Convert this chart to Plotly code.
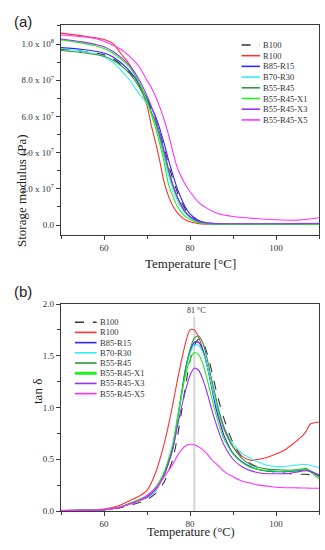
import numpy as np
import plotly.graph_objects as go

# ---------------- data ----------------
SERIES = ["B100", "R100", "B85-R15", "B70-R30", "B55-R45",
          "B55-R45-X1", "B55-R45-X3", "B55-R45-X5"]
COLORS = ["#333333", "#ff3030", "#2a2aff", "#30f0f0", "#2e9a3a",
          "#22ee22", "#9a30f0", "#ff30ff"]

# (a) storage modulus, values in units of 1e7 Pa
T_A = [50, 55, 58, 60, 62, 64, 66, 68, 70, 71, 72, 73, 74, 75, 76, 77, 78, 79, 80,
       82, 84, 86, 90, 95, 100, 105, 110]
E_B100 = [9.72, 9.6, 9.5, 9.4, 9.2, 8.85, 8.4, 7.75, 6.9, 6.4, 5.85, 5.1, 4.25, 3.35, 2.55,
          1.85, 1.28, 0.85, 0.55, 0.22, 0.11, 0.07, 0.05, 0.04, 0.04, 0.04, 0.04]
E_R100 = [10.6, 10.45, 10.35, 10.25, 10.05, 9.45, 8.85, 7.85, 6.6, 5.5, 4.55, 3.5, 2.35, 1.6,
          1.05, 0.7, 0.45, 0.28, 0.18, 0.08, 0.05, 0.04, 0.03, 0.03, 0.03, 0.03, 0.03]
E_B85R15 = [9.8, 9.7, 9.6, 9.5, 9.3, 8.95, 8.5, 7.85, 7.0, 6.5, 6.0, 5.3, 4.5, 3.6, 2.8,
            2.05, 1.45, 0.95, 0.62, 0.25, 0.12, 0.08, 0.06, 0.05, 0.05, 0.05, 0.05]
E_B70R30 = [9.75, 9.6, 9.45, 9.3, 9.0, 8.55, 8.0, 7.3, 6.7, 6.2, 5.55, 4.7, 3.7, 2.75, 2.0,
            1.4, 0.95, 0.62, 0.4, 0.16, 0.08, 0.06, 0.05, 0.04, 0.04, 0.04, 0.04]
E_B55R45 = [9.64, 9.52, 9.42, 9.32, 9.12, 8.8, 8.35, 7.7, 6.8, 6.25, 5.65, 4.85, 3.95, 3.0,
            2.2, 1.55, 1.05, 0.7, 0.45, 0.18, 0.09, 0.06, 0.05, 0.04, 0.04, 0.04, 0.04]
E_X1 = [10.23, 10.05, 9.9, 9.75, 9.5, 9.15, 8.7, 7.95, 6.85, 6.1, 5.35, 4.45, 3.45, 2.25,
        1.6, 1.05, 0.7, 0.45, 0.3, 0.13, 0.08, 0.06, 0.05, 0.04, 0.04, 0.04, 0.04]
E_X3 = [10.28, 10.12, 9.98, 9.85, 9.6, 9.25, 8.8, 8.1, 7.15, 6.55, 5.9, 5.05, 4.1, 3.1,
        2.25, 1.6, 1.1, 0.72, 0.47, 0.2, 0.11, 0.08, 0.07, 0.07, 0.07, 0.08, 0.1]
E_X5 = [10.5, 10.4, 10.3, 10.15, 9.95, 9.7, 9.3, 8.8, 8.0, 7.6, 7.1, 6.5, 5.8, 5.0, 4.05,
        3.2, 2.65, 2.2, 1.85, 1.25, 0.92, 0.68, 0.47, 0.36, 0.29, 0.27, 0.4]
E_UNIT = 1e7

# (b) tan delta
T_B = [50, 55, 60, 63, 66, 68, 70, 72, 74, 75, 76, 77, 78, 79, 80, 81, 82, 83, 84, 85, 86,
       87, 88, 90, 92, 94, 96, 98, 100, 102, 104, 106, 107, 108, 110]
D_B100 = [0.005, 0.006, 0.01, 0.025, 0.055, 0.08, 0.11, 0.17, 0.28, 0.38, 0.5, 0.7, 0.95,
          1.22, 1.45, 1.6, 1.66, 1.63, 1.52, 1.36, 1.18, 1.02, 0.88, 0.66, 0.53, 0.46, 0.42,
          0.39, 0.375, 0.365, 0.36, 0.355, 0.355, 0.35, 0.34]
D_R100 = [0.005, 0.008, 0.02, 0.045, 0.1, 0.14, 0.2, 0.37, 0.65, 0.83, 1.03, 1.25, 1.45,
          1.63, 1.75, 1.75, 1.68, 1.56, 1.4, 1.22, 1.05, 0.9, 0.78, 0.62, 0.53, 0.49, 0.5,
          0.52, 0.55, 0.59, 0.65, 0.72, 0.77, 0.84, 0.86]
D_B85R15 = [0.005, 0.007, 0.012, 0.03, 0.07, 0.1, 0.13, 0.2, 0.35, 0.47, 0.6, 0.85, 1.12,
            1.38, 1.54, 1.63, 1.63, 1.55, 1.4, 1.2, 1.0, 0.85, 0.72, 0.56, 0.48, 0.43, 0.4,
            0.385, 0.38, 0.38, 0.385, 0.395, 0.4, 0.385, 0.35]
D_B70R30 = [0.005, 0.007, 0.012, 0.03, 0.07, 0.1, 0.135, 0.2, 0.35, 0.47, 0.6, 0.84, 1.1,
            1.35, 1.52, 1.6, 1.6, 1.53, 1.4, 1.22, 1.05, 0.91, 0.8, 0.65, 0.56, 0.51, 0.47,
            0.44, 0.43, 0.43, 0.44, 0.45, 0.45, 0.44, 0.42]
D_B55R45 = [0.005, 0.007, 0.012, 0.03, 0.07, 0.1, 0.14, 0.21, 0.36, 0.48, 0.62, 0.87, 1.13,
            1.38, 1.56, 1.67, 1.69, 1.62, 1.47, 1.28, 1.1, 0.93, 0.8, 0.62, 0.51, 0.45, 0.42,
            0.405, 0.4, 0.395, 0.395, 0.405, 0.41, 0.39, 0.33]
D_X1 = [0.005, 0.007, 0.013, 0.032, 0.075, 0.11, 0.15, 0.23, 0.38, 0.5, 0.65, 0.88, 1.12,
        1.32, 1.46, 1.53, 1.51, 1.42, 1.27, 1.1, 0.94, 0.8, 0.69, 0.55, 0.47, 0.42, 0.4,
        0.39, 0.385, 0.385, 0.39, 0.4, 0.4, 0.38, 0.31]
D_X3 = [0.005, 0.007, 0.012, 0.03, 0.07, 0.1, 0.14, 0.21, 0.35, 0.46, 0.6, 0.8, 1.0, 1.17,
        1.31, 1.38, 1.36, 1.27, 1.14, 0.99, 0.85, 0.73, 0.63, 0.5, 0.43, 0.39, 0.37, 0.36,
        0.36, 0.36, 0.37, 0.385, 0.39, 0.38, 0.34]
D_X5 = [0.004, 0.006, 0.012, 0.03, 0.065, 0.1, 0.15, 0.22, 0.33, 0.39, 0.45, 0.53, 0.59,
        0.63, 0.645, 0.64, 0.62, 0.59, 0.55, 0.5, 0.46, 0.42, 0.38, 0.33, 0.29, 0.27, 0.25,
        0.24, 0.23, 0.225, 0.225, 0.222, 0.222, 0.22, 0.22]

PEAK_T = 81
PEAK_LABEL = "81 °C"

A_YTICKS = [0, 2e7, 4e7, 6e7, 8e7, 1e8]
A_YTEXT = ["0.0", "2.0 x 10<sup>7</sup>", "4.0 x 10<sup>7</sup>", "6.0 x 10<sup>7</sup>",
           "8.0 x 10<sup>7</sup>", "1.0 x 10<sup>8</sup>"]
B_YTICKS = [0.0, 0.5, 1.0, 1.5, 2.0]
B_YTEXT = ["0.0", "0.5", "1.0", "1.5", "2.0"]
X_TICKS = [60, 80, 100]

E_DATA = [E_B100, E_R100, E_B85R15, E_B70R30, E_B55R45, E_X1, E_X3, E_X5]
D_DATA = [D_B100, D_R100, D_B85R15, D_B70R30, D_B55R45, D_X1, D_X3, D_X5]

# ---------------- figure ----------------
SERIF = "Liberation Serif"
SANS = "Liberation Sans"
AX = "#3a3a3a"
ML, MR, MT, MB = 61, 6, 25, 39
W, H = 325, 550
PW, PH = W - ML - MR, H - MT - MB


def px_x(px):
    return (px - ML) / PW


def px_y(py):
    return (H - MB - py) / PH


fig = go.Figure()
for name, col, e in zip(SERIES, COLORS, E_DATA):
    fig.add_trace(go.Scatter(x=T_A, y=np.array(e) * E_UNIT, mode="lines", name=name,
                             line=dict(color=col, width=1.1, shape="spline", smoothing=0.8,
                                       dash="dash" if name == "B100" else "solid"),
                             xaxis="x", yaxis="y", showlegend=False))
for name, col, d in zip(SERIES, COLORS, D_DATA):
    fig.add_trace(go.Scatter(x=T_B, y=d, mode="lines", name=name,
                             line=dict(color=col, width=1.1, shape="spline", smoothing=0.8,
                                       dash="dash" if name == "B100" else "solid"),
                             xaxis="x2", yaxis="y2", showlegend=False))

axis_common = dict(showline=True, linecolor=AX, linewidth=1.2, mirror=True,
                   ticks="outside", ticklen=4, tickcolor=AX, tickwidth=1,
                   showgrid=False, zeroline=False, automargin=False,
                   tickfont=dict(family=SERIF, size=9, color="#333333"))

fig.update_layout(
    template="none",
    autosize=False,
    width=W, height=H,
    margin=dict(l=ML, r=MR, t=MT, b=MB, pad=0, autoexpand=False),
    paper_bgcolor="white", plot_bgcolor="white",
    showlegend=False,
    xaxis=dict(domain=[0, 1], range=[50, 110], anchor="y", tickvals=X_TICKS,
               minor=dict(ticks="outside", ticklen=3, dtick=10, tick0=50, tickcolor=AX),
               **axis_common),
    yaxis=dict(domain=[px_y(235), 1], range=[-5.5e6, 1.105e8], anchor="x",
               tickvals=A_YTICKS, ticktext=A_YTEXT,
               minor=dict(ticks="outside", ticklen=3, dtick=1e7, tick0=0, tickcolor=AX),
               **axis_common),
    xaxis2=dict(domain=[0, 1], range=[50, 110], anchor="y2", tickvals=X_TICKS,
                minor=dict(ticks="outside", ticklen=3, dtick=10, tick0=50, tickcolor=AX),
                **axis_common),
    yaxis2=dict(domain=[0, px_y(304)], range=[0, 2.0], anchor="x2",
                tickvals=B_YTICKS, ticktext=B_YTEXT,
                minor=dict(ticks="outside", ticklen=3, dtick=0.25, tick0=0, tickcolor=AX),
                **axis_common),
)

shapes = []
annotations = []

# peak reference line in (b)
shapes.append(dict(type="line", xref="x2", yref="y2", x0=PEAK_T, x1=PEAK_T, y0=0, y1=1.88,
                   line=dict(color="#d4d4d4", width=2), layer="below"))
annotations.append(dict(xref="x2", yref="y2", x=PEAK_T + 0.4, y=1.935, text=PEAK_LABEL,
                        showarrow=False, font=dict(family=SERIF, size=8, color="#333333")))


# manual legends
def add_legend(xd, yd, x0, x1, xt, ytop, step, wide_idx=None):
    for i, (name, col) in enumerate(zip(SERIES, COLORS)):
        y = ytop - i * step
        w = 3 if (wide_idx is not None and i == wide_idx) else 1.6
        shapes.append(dict(type="line", xref=xd, yref=yd, x0=x0, x1=x1, y0=y, y1=y,
                           line=dict(color=col, width=w,
                                     dash="dash" if name == "B100" else "solid")))
        annotations.append(dict(xref=xd, yref=yd, x=xt, y=y, text=name, showarrow=False,
                                xanchor="left", yanchor="middle",
                                font=dict(family=SERIF, size=8.5, color="#333333")))


add_legend("x domain", "y domain", 0.700, 0.771, 0.776, 0.905, 0.051)
add_legend("x2 domain", "y2 domain", 0.054, 0.138, 0.143, 0.912, 0.0493, wide_idx=5)

# axis titles and panel labels
annotations += [
    dict(xref="paper", yref="paper", x=px_x(190), y=px_y(263),
         text="Temperature [°C]", showarrow=False, borderpad=0,
         font=dict(family=SERIF, size=13, color="#222222")),
    dict(xref="paper", yref="paper", x=px_x(191), y=px_y(540),
         text="Temperature (°C)", showarrow=False, borderpad=0,
         font=dict(family=SERIF, size=12.5, color="#222222")),
    dict(xref="paper", yref="paper", x=px_x(13), y=px_y(133),
         text="Storage modulus (Pa)", textangle=-90, showarrow=False, borderpad=0,
         font=dict(family=SERIF, size=13, color="#222222")),
    dict(xref="paper", yref="paper", x=px_x(29), y=px_y(405),
         text="tan δ", textangle=-90, showarrow=False, borderpad=0,
         font=dict(family=SERIF, size=13, color="#222222")),
    dict(xref="paper", yref="paper", x=px_x(12), y=px_y(11),
         text="(a)", showarrow=False, font=dict(family=SANS, size=15, color="#222222")),
    dict(xref="paper", yref="paper", x=px_x(12), y=px_y(291),
         text="(b)", showarrow=False, font=dict(family=SANS, size=15, color="#222222")),
]

fig.update_layout(shapes=shapes, annotations=annotations)
fig.write_html("out.html",
               config={"displayModeBar": False, "staticPlot": True},
               post_script="document.body.style.margin='0';"
                           "document.body.style.padding='0';"
                           "document.body.style.overflow='hidden';")
